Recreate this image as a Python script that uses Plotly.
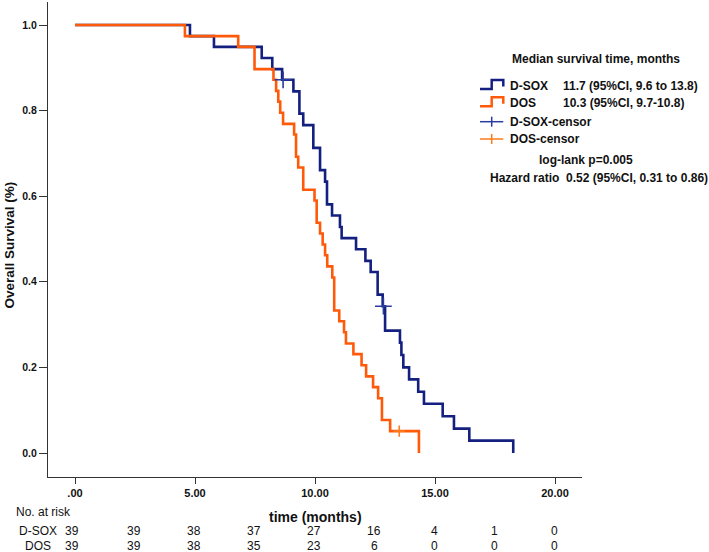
import plotly.graph_objects as go

# ---------------- data ----------------
dsox_time = [0, 4.79, 5.79, 7.78, 8.22, 8.63, 9.10, 9.35, 9.51, 9.93, 10.21, 10.42, 10.50,
             10.71, 11.04, 11.11, 11.71, 12.10, 12.32, 12.61, 12.82, 12.92, 13.54, 13.60,
             13.68, 13.92, 14.30, 14.54, 15.32, 15.79, 16.43, 18.26]
dsox_surv = [1.0, 0.974, 0.949, 0.923, 0.897, 0.872, 0.845, 0.793, 0.766, 0.713, 0.661, 0.634,
             0.581, 0.555, 0.528, 0.502, 0.476, 0.449, 0.423, 0.370, 0.343, 0.286, 0.258,
             0.229, 0.200, 0.172, 0.143, 0.115, 0.086, 0.057, 0.029, 0.0]
dos_time = [0, 4.58, 6.80, 7.48, 8.27, 8.38, 8.47, 8.55, 8.67, 9.13, 9.21, 9.30, 9.51, 9.98,
            10.07, 10.21, 10.32, 10.42, 10.51, 10.72, 10.80, 11.01, 11.21, 11.29, 11.60,
            11.94, 12.13, 12.42, 12.63, 12.79, 13.13, 14.33]
dos_surv = [1.0, 0.974, 0.949, 0.897, 0.872, 0.846, 0.821, 0.795, 0.769, 0.744, 0.692, 0.667,
            0.615, 0.590, 0.538, 0.513, 0.487, 0.462, 0.436, 0.410, 0.333, 0.308, 0.282,
            0.256, 0.231, 0.205, 0.179, 0.154, 0.128, 0.077, 0.051, 0.0]
dsox_censor_time = [8.67, 12.85]
dsox_censor_surv = [0.872, 0.343]
dos_censor_time = [13.51]
dos_censor_surv = [0.051]

x_tick_vals = [0, 5, 10, 15, 20]
x_tick_text = [".00", "5.00", "10.00", "15.00", "20.00"]
y_tick_vals = [0.0, 0.2, 0.4, 0.6, 0.8, 1.0]
y_tick_text = ["0.0", "0.2", "0.4", "0.6", "0.8", "1.0"]

risk_times = [0, 2.5, 5, 7.5, 10, 12.5, 15, 17.5, 20]
dsox_at_risk = [39, 39, 38, 37, 27, 16, 4, 1, 0]
dos_at_risk = [39, 39, 38, 35, 23, 6, 0, 0, 0]

legend_rows = [
    ("D-SOX", "11.7 (95%CI, 9.6 to 13.8)"),
    ("DOS", "10.3 (95%CI, 9.7-10.8)"),
    ("D-SOX-censor", ""),
    ("DOS-censor", ""),
]

# ---------------- styling ----------------
BLUE = "#14207f"
BLUE_C = "#2a3c9e"
ORANGE = "#ff5a0a"
ORANGE_C = "#ff7a1a"
FONT = "Arial, Liberation Sans, sans-serif"
W, H = 709, 552
L, R, T, B = 48, 127, 2, 75
pw, ph = W - L - R, H - T - B


def px(x):
    return (x - L) / pw


def py(y):
    return (H - B - y) / ph


fig = go.Figure()
fig.add_trace(go.Scatter(x=dsox_time, y=dsox_surv, mode="lines", line_shape="hv",
                         line=dict(color=BLUE, width=2.6), showlegend=False))
fig.add_trace(go.Scatter(x=dos_time, y=dos_surv, mode="lines", line_shape="hv",
                         line=dict(color=ORANGE, width=2.6), showlegend=False))
fig.add_trace(go.Scatter(x=dsox_censor_time, y=dsox_censor_surv, mode="markers",
                         marker=dict(symbol="cross-thin", size=12,
                                     line=dict(color=BLUE_C, width=1.6)),
                         showlegend=False))
fig.add_trace(go.Scatter(x=dos_censor_time, y=dos_censor_surv, mode="markers",
                         marker=dict(symbol="cross-thin", size=8,
                                     line=dict(color=ORANGE_C, width=1.6)),
                         showlegend=False))

bold12 = dict(family=FONT, size=12, color="#111", weight="bold")
ann = []
shapes = []

# legend block
ann.append(dict(text="Median survival time, months", x=px(595.5), y=py(59), xref="paper",
                yref="paper", showarrow=False, font=bold12, xanchor="center", yanchor="middle"))
row_y = [86, 103.3, 121.7, 139]
icon_cols = [BLUE, ORANGE, BLUE_C, ORANGE_C]
for i, (name, stat) in enumerate(legend_rows):
    yc = row_y[i]
    ann.append(dict(text=name, x=px(508), y=py(yc), xref="paper", yref="paper",
                    showarrow=False, font=bold12, xanchor="left", yanchor="middle"))
    if stat:
        ann.append(dict(text=stat, x=px(560.5), y=py(yc), xref="paper", yref="paper",
                        showarrow=False, font=bold12, xanchor="left", yanchor="middle"))
    if i < 2:
        path = "M {},{} L {},{} L {},{} L {},{} L {},{}".format(
            px(480), py(yc + 3), px(491.7), py(yc + 3), px(491.7), py(yc - 6),
            px(503.3), py(yc - 6), px(503.3), py(yc + 0.5))
        shapes.append(dict(type="path", path=path, xref="paper", yref="paper",
                           line=dict(color=icon_cols[i], width=2.5)))
    else:
        shapes.append(dict(type="line", x0=px(480), x1=px(503.3), y0=py(yc), y1=py(yc),
                           xref="paper", yref="paper",
                           line=dict(color=icon_cols[i], width=1.5)))
        shapes.append(dict(type="line", x0=px(491.7), x1=px(491.7), y0=py(yc - 5),
                           y1=py(yc + 5), xref="paper", yref="paper",
                           line=dict(color=icon_cols[i], width=1.5)))

ann.append(dict(text="log-lank p=0.005", x=px(585.5), y=py(160), xref="paper", yref="paper",
                showarrow=False, font=bold12, xanchor="center", yanchor="middle"))
ann.append(dict(text="Hazard ratio  0.52 (95%CI, 0.31 to 0.86)", x=px(488), y=py(178),
                xref="paper", yref="paper", showarrow=False, font=bold12,
                xanchor="left", yanchor="middle"))

# axis titles
ann.append(dict(text="Overall Survival (%)", x=px(8.5), y=py(245), xref="paper", yref="paper",
                showarrow=False, textangle=-90,
                font=dict(family=FONT, size=13.5, color="#111", weight="bold"),
                xanchor="center", yanchor="middle"))
ann.append(dict(text="time (months)", x=px(315), y=py(517), xref="paper", yref="paper",
                showarrow=False, font=dict(family=FONT, size=14, color="#111", weight="bold"),
                xanchor="center", yanchor="middle"))

# at-risk table
tab_font = dict(family=FONT, size=12, color="#111")
ann.append(dict(text="No. at risk", x=px(13.5), y=py(512), xref="paper", yref="paper",
                showarrow=False, font=tab_font, xanchor="left", yanchor="middle"))
ann.append(dict(text="D-SOX", x=px(37.5), y=py(531), xref="paper", yref="paper",
                showarrow=False, font=tab_font, xanchor="center", yanchor="middle"))
ann.append(dict(text="DOS", x=px(37.5), y=py(546), xref="paper", yref="paper",
                showarrow=False, font=tab_font, xanchor="center", yanchor="middle",
                borderpad=0))
for t, a, b in zip(risk_times, dsox_at_risk, dos_at_risk):
    shift = -3 if t == 0 else -1
    ann.append(dict(text=str(a), x=t, y=py(531), xref="x", yref="paper", xshift=shift,
                    showarrow=False, font=tab_font, xanchor="center", yanchor="middle"))
    ann.append(dict(text=str(b), x=t, y=py(546), xref="x", yref="paper", xshift=shift,
                    showarrow=False, font=tab_font, xanchor="center", yanchor="middle",
                    borderpad=0))

x0 = -(75 - L) / 24.0
fig.update_layout(
    width=W, height=H, margin=dict(l=L, r=R, t=T, b=B),
    paper_bgcolor="white", plot_bgcolor="white",
    annotations=ann, shapes=shapes, showlegend=False,
    xaxis=dict(range=[x0, x0 + pw / 24.0], tickvals=x_tick_vals, ticktext=x_tick_text,
               showline=True, linecolor="#333", linewidth=1.3, ticks="outside",
               ticklen=6, tickcolor="#333", tickwidth=1.3, showgrid=False, zeroline=False,
               tickfont=dict(family=FONT, size=11, color="#111", weight="bold")),
    yaxis=dict(range=[-24 / 428, (453 - T) / 428], tickvals=y_tick_vals, ticktext=y_tick_text,
               showline=True, linecolor="#333", linewidth=1.3, ticks="outside",
               ticklen=8, tickcolor="#333", tickwidth=1.3, showgrid=False, zeroline=False,
               tickfont=dict(family=FONT, size=10.5, color="#111", weight="bold")),
)

fig.write_html("out.html", config={"displayModeBar": False},
               post_script="document.body.style.margin='0';document.body.style.overflow='hidden';")
